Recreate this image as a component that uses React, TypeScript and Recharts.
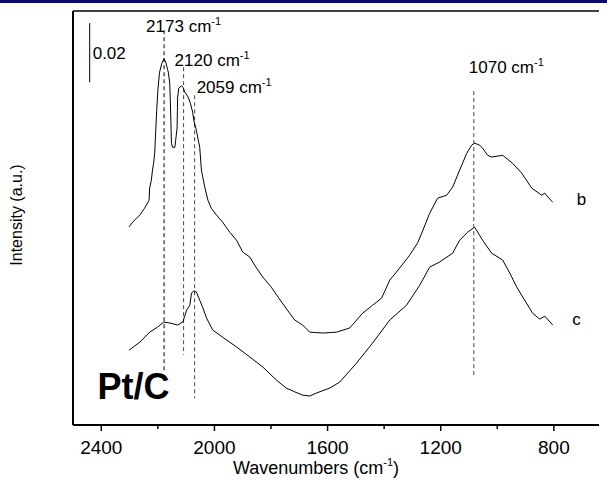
import React from 'react';
import { LineChart, Line, XAxis, YAxis, ReferenceLine, ReferenceDot } from 'recharts';

const FONT = "Arial, 'Liberation Sans', Helvetica, sans-serif";

// Spectrum b (upper)
const bWavenumber = [
  2302, 2289, 2264, 2247, 2231, 2229, 2223, 2219, 2215, 2211,
  2208, 2204, 2200, 2194, 2186, 2178, 2172, 2168, 2163, 2158,
  2156, 2154, 2152, 2148, 2140, 2137, 2132, 2131, 2130, 2126,
  2117, 2111, 2105, 2093, 2085, 2077, 2073, 2064, 2052, 2046,
  2034, 2023, 2011, 1993, 1971, 1946, 1922, 1900, 1875, 1858,
  1829, 1799, 1763, 1734, 1716, 1688, 1663, 1617, 1568, 1522,
  1476, 1441, 1409, 1380, 1345, 1310, 1282, 1267, 1239, 1211,
  1179, 1158, 1133, 1108, 1091, 1080, 1062, 1052, 1034, 1020,
  981, 946, 914, 878, 843, 832, 818, 804,
];
const bIntensity = [
  0.0670, 0.0686, 0.0710, 0.0733, 0.0760, 0.0801, 0.0828, 0.0862, 0.0885, 0.0922,
  0.0987, 0.1064, 0.1132, 0.1193, 0.1223, 0.1239, 0.1227, 0.1211, 0.1193, 0.1156,
  0.1098, 0.1031, 0.0953, 0.0939, 0.0939, 0.0963, 0.1004, 0.1064, 0.1109, 0.1139,
  0.1147, 0.1142, 0.1126, 0.1109, 0.1088, 0.1058, 0.1031, 0.0997, 0.0939, 0.0862,
  0.0804, 0.0760, 0.0733, 0.0710, 0.0686, 0.0652, 0.0625, 0.0585, 0.0568, 0.0541,
  0.0500, 0.0466, 0.0416, 0.0378, 0.0355, 0.0338, 0.0314, 0.0311, 0.0314, 0.0328,
  0.0378, 0.0405, 0.0429, 0.0490, 0.0531, 0.0574, 0.0615, 0.0649, 0.0716, 0.0767,
  0.0777, 0.0804, 0.0862, 0.0919, 0.0946, 0.0953, 0.0946, 0.0936, 0.0912, 0.0906,
  0.0912, 0.0885, 0.0852, 0.0801, 0.0777, 0.0784, 0.0767, 0.0754,
];

// Spectrum c (lower)
const cWavenumber = [
  2302, 2264, 2229, 2201, 2179, 2158, 2130, 2112, 2105, 2098,
  2087, 2081, 2073, 2064, 2052, 2042, 2028, 2006, 1971, 1922,
  1875, 1829, 1781, 1746, 1716, 1688, 1663, 1640, 1592, 1557,
  1498, 1441, 1380, 1321, 1274, 1239, 1204, 1158, 1133, 1105,
  1080, 1052, 1020, 981, 956, 931, 903, 875, 850, 832,
  804,
];
const cIntensity = [
  0.0253, 0.0280, 0.0314, 0.0331, 0.0348, 0.0345, 0.0338, 0.0348, 0.0368, 0.0389,
  0.0405, 0.0446, 0.0454, 0.0450, 0.0422, 0.0399, 0.0362, 0.0321, 0.0297, 0.0264,
  0.0230, 0.0196, 0.0152, 0.0125, 0.0112, 0.0101, 0.0098, 0.0108, 0.0125, 0.0145,
  0.0209, 0.0277, 0.0355, 0.0405, 0.0473, 0.0534, 0.0551, 0.0581, 0.0625, 0.0652,
  0.0669, 0.0625, 0.0581, 0.0558, 0.0514, 0.0466, 0.0422, 0.0378, 0.0358, 0.0368,
  0.0338,
];

// Axis ticks
const bottomTicks = [2400, 2200, 2000, 1800, 1600, 1400, 1200, 1000, 800, 600, 400];
const labeledTicks = [2400, 2000, 1600, 1200, 800];
const yTicks = [0, 0.00933, 0.01867, 0.028, 0.03733, 0.04667, 0.056, 0.06533, 0.07467, 0.084, 0.09333, 0.10267, 0.112, 0.12133, 0.13067, 0.14];

// Peak markers
const peakLabels = ['2173', '2120', '2059', '1070'];
const peakPositions = [2178, 2109, 2070, 1083];
const peakTop = [0.1335, 0.1210, 0.1115, 0.1129];
const peakBottom = [0.0179, 0.0237, 0.0091, 0.0162];
const peakLabelOffset = [[-18, 2], [-9, -1], [2, -2], [-5, -18]];
const peakColor = ['#000', '#444', '#444', '#444'];

const bData = bWavenumber.map((x, i) => ({ x, y: bIntensity[i] }));
const cData = cWavenumber.map((x, i) => ({ x, y: cIntensity[i] }));

const BottomTick = (props: any) => {
  const { x, y, payload } = props;
  const v = payload.value;
  const major = labeledTicks.includes(v);
  return (
    <g>
      <line x1={x} x2={x} y1={y} y2={y + (major ? 6 : 4)} stroke="#000" strokeWidth={1.5} />
      {major && (
        <text x={x} y={y + 28.5} textAnchor="middle" fontSize={19} fontFamily={FONT} fill="#000">
          {v}
        </text>
      )}
    </g>
  );
};

const XTitle = (props: any) => {
  const vb = props.viewBox || { x: 0, y: 0 };
  return (
    <text x={vb.x + 243} y={vb.y + 49} textAnchor="middle" fontSize={18} fontFamily={FONT} fill="#000">
      Wavenumbers (cm<tspan dy={-8} fontSize={11}>-1</tspan><tspan dy={8}>)</tspan>
    </text>
  );
};

const YTitle = (props: any) => {
  const vb = props.viewBox || { x: 0, y: 0, width: 65 };
  const cx = vb.x + vb.width - 55;
  const cy = vb.y + 204;
  return (
    <text x={cx} y={cy} transform={`rotate(-90 ${cx} ${cy})`} textAnchor="middle" dominantBaseline="middle" fontSize={16} fontFamily={FONT} fill="#000">
      Intensity (a.u.)
    </text>
  );
};

const PeakLabel = (props: any) => {
  const vb = props.viewBox || { x: 0, y: 0 };
  return (
    <text x={vb.x + props.offX} y={vb.y + props.offY} fontSize={17} fontFamily={FONT} fill="#000">
      {props.txt} cm<tspan dy={-7} fontSize={11}>-1</tspan>
    </text>
  );
};

const ScaleLabel = (props: any) => {
  const vb = props.viewBox || { x: 0, y: 0, height: 0 };
  return (
    <text x={vb.x + 3} y={vb.y + vb.height / 2 + 6} fontSize={17} fontFamily={FONT} fill="#000">
      0.02
    </text>
  );
};

const DotText = (props: any) => {
  const vb = props.viewBox || { x: 0, y: 0 };
  return (
    <text x={vb.x} y={vb.y} fontSize={props.size} fontWeight={props.bold ? 'bold' : 'normal'} fontFamily={FONT} fill="#000">
      {props.txt}
    </text>
  );
};

export default function App() {
  return (
    <div>
      <div style={{ position: 'fixed', top: 0, left: 0, width: '100%', height: 3, background: '#0b0b6e', zIndex: 10 }} />
      <div style={{ width: 599, height: 475, overflow: 'hidden' }}>
        <LineChart width={665} height={475} margin={{ top: 2, right: 6, bottom: 0, left: 0 }}>
          <XAxis
            dataKey="x"
            type="number"
            domain={[400, 2500]}
            reversed
            allowDataOverflow
            ticks={bottomTicks}
            interval={0}
            tickLine={false}
            tickSize={0}
            tickMargin={0}
            tick={<BottomTick />}
            axisLine={{ stroke: '#000', strokeWidth: 2 }}
            height={58}
            label={<XTitle />}
          />
          <XAxis
            xAxisId="top"
            dataKey="x"
            type="number"
            orientation="top"
            domain={[400, 2500]}
            reversed
            allowDataOverflow
            ticks={bottomTicks}
            interval={0}
            height={1}
            tickSize={-3}
            tick={false}
            tickLine={{ stroke: '#000', strokeWidth: 1 }}
            axisLine={{ stroke: '#000', strokeWidth: 1.5 }}
          />
          <YAxis
            type="number"
            domain={[0, 0.14]}
            allowDataOverflow
            ticks={yTicks}
            interval={0}
            width={65}
            tickSize={-2}
            tick={false}
            tickLine={{ stroke: '#000', strokeWidth: 1 }}
            axisLine={{ stroke: '#000', strokeWidth: 2 }}
            label={<YTitle />}
          />
          {peakPositions.map((px, i) => (
            <ReferenceLine
              key={'peak' + i}
              segment={[{ x: px, y: peakTop[i] }, { x: px, y: peakBottom[i] }]}
              stroke={peakColor[i]}
              strokeWidth={1}
              strokeDasharray="4 3"
              label={<PeakLabel txt={peakLabels[i]} offX={peakLabelOffset[i][0]} offY={peakLabelOffset[i][1]} />}
            />
          ))}
          <ReferenceLine
            segment={[{ x: 2441, y: 0.1359 }, { x: 2441, y: 0.1159 }]}
            stroke="#000"
            strokeWidth={1}
            label={<ScaleLabel />}
          />
          <Line data={bData} dataKey="y" type="linear" stroke="#000" strokeWidth={1} dot={false} isAnimationActive={false} />
          <Line data={cData} dataKey="y" type="linear" stroke="#000" strokeWidth={1} dot={false} isAnimationActive={false} />
          <ReferenceDot x={719} y={0.0743} r={0} fill="none" stroke="none" label={<DotText txt="b" size={17} />} />
          <ReferenceDot x={735} y={0.0338} r={0} fill="none" stroke="none" label={<DotText txt="c" size={17} />} />
          <ReferenceDot x={2413} y={0.0088} r={0} fill="none" stroke="none" label={<DotText txt="Pt/C" size={36} bold />} />
        </LineChart>
      </div>
    </div>
  );
}
